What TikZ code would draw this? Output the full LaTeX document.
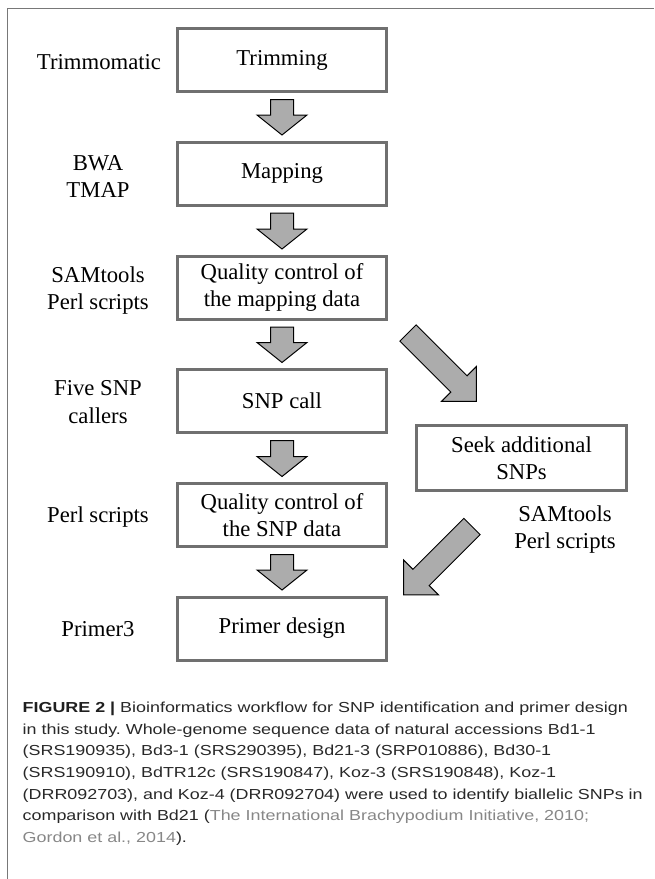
\documentclass[tikz,border=0pt]{standalone}
\usepackage{fontspec}
\setmainfont{Liberation Serif}
\newfontfamily\capfont[FakeStretch=1.235]{Liberation Sans}
\usetikzlibrary{calc}
\definecolor{boxgray}{RGB}{112,112,112}
\definecolor{arrgray}{RGB}{172,172,172}
\definecolor{framegray}{RGB}{120,120,120}
\definecolor{captext}{RGB}{40,40,40}
\definecolor{citegray}{RGB}{135,135,135}
\newcommand\blockarrow[5]{%
  \draw[blockarr] let \p1=(#1), \p2=(#2), \n1={atan2(\y2-\y1,\x2-\x1)},
    \n2={veclen(\x2-\x1,\y2-\y1)} in
    [shift={(\p1)}, rotate=\n1] (0,#3) -- (\n2-#5,#3) -- (\n2-#5,#4) -- (\n2,0)
    -- (\n2-#5,-#4) -- (\n2-#5,-#3) -- (0,-#3) -- cycle;
}
\frenchspacing
\begin{document}
\begin{tikzpicture}[x=1pt,y=-1pt,
  box/.style={draw=boxgray, line width=3pt, minimum width=209pt, minimum height=63pt,
    inner sep=0pt, align=center, font=\fontsize{22.7}{27.2}\selectfont},
  lbl/.style={inner sep=0pt, align=center, font=\fontsize{22.7}{27.2}\selectfont},
  blockarr/.style={draw=black, line width=1pt, fill=arrgray, line join=miter},
  frameline/.style={draw=framegray, line width=1.4pt}]
\useasboundingbox (0,0) rectangle (654,879);
% frame
\coordinate (fbl) at (7.3,879);
\coordinate (ftl) at (7.3,8.3);
\coordinate (ftr) at (654,8.3);
\draw[frameline] (fbl) -- (ftl) -- (ftr);
% boxes
\node[box] (trim) at (282,60) {Trimming};
\node[box] (map) at (282,173.5) {Mapping};
\node[box] (qcmap) at (282,287.5) {Quality control of\\the mapping data};
\node[box] (snp) at (282,401) {SNP call};
\node[box] (qcsnp) at (282,515) {Quality control of\\the SNP data};
\node[box] (primer) at (282,628.5) {Primer design};
\node[box, minimum width=210pt, minimum height=65pt] (seek) at (521.5,458) {Seek additional\\SNPs};
% labels
\node[lbl] (l1) at (99,62) {Trimmomatic};
\node[lbl] (l2) at (98,176.5) {BWA\\TMAP};
\node[lbl] (l3) at (98,290.5) {SAMtools\\Perl scripts};
\node[lbl] (l4) at (98,402) {Five SNP\\callers};
\node[lbl] (l5) at (98,517) {Perl scripts};
\node[lbl] (l6) at (98,629) {Primer3};
\node[lbl] (r1) at (565,529.5) {SAMtools\\Perl scripts};
% vertical arrows
\blockarrow{$(trim.south)+(0,6.5)$}{$(map.north)+(0,-5.5)$}{11.5}{25}{20}
\blockarrow{$(map.south)+(0,6.5)$}{$(qcmap.north)+(0,-5.5)$}{11.5}{25}{20}
\blockarrow{$(qcmap.south)+(0,6.5)$}{$(snp.north)+(0,-5.5)$}{11.5}{25}{20}
\blockarrow{$(snp.south)+(0,6.5)$}{$(qcsnp.north)+(0,-5.5)$}{11.5}{25}{20}
\blockarrow{$(qcsnp.south)+(0,6.5)$}{$(primer.north)+(0,-5.5)$}{11.5}{25}{20}
% diagonal arrows
\blockarrow{$(qcmap.south east)+(20,12.5)$}{$(seek.north west)+(61.5,-22.5)$}{11.5}{24.5}{24.5}
\blockarrow{$(seek.south west)+(57,34.5)$}{$(primer.north east)+(15.5,-0.5)$}{11.5}{24.5}{24.5}
% caption
\node[anchor=north west, inner sep=0pt, align=left, text=captext,
  font=\capfont\fontsize{14.5}{21.67}\selectfont\frenchspacing] (cap) at (22.5,701.8)
  {{\bfseries\color{black!88}FIGURE 2 |} Bioinformatics workflow for SNP identification and primer design\\
   in this study. Whole-genome sequence data of natural accessions Bd1-1\\
   (SRS190935), Bd3-1 (SRS290395), Bd21-3 (SRP010886), Bd30-1\\
   (SRS190910), BdTR12c (SRS190847), Koz-3 (SRS190848), Koz-1\\
   (DRR092703), and Koz-4 (DRR092704) were used to identify biallelic SNPs in\\
   comparison with Bd21 ({\color{citegray}The International Brachypodium Initiative, 2010;}\\
   {\color{citegray}Gordon et al., 2014}).};
\end{tikzpicture}
\end{document}
